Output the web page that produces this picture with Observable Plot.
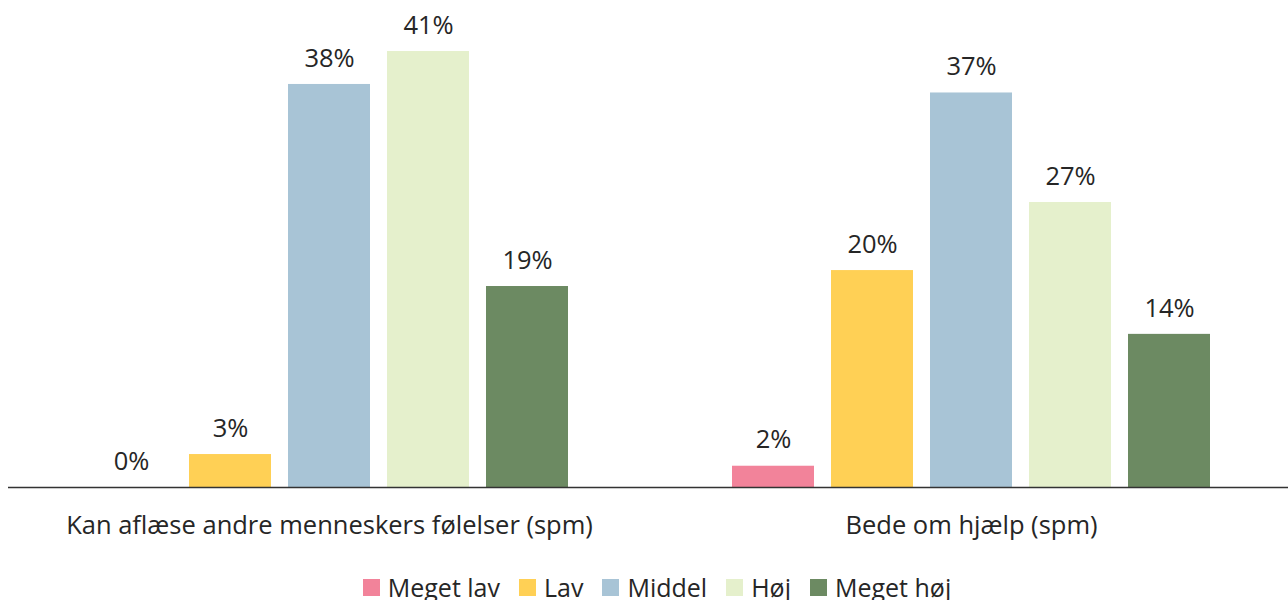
<!DOCTYPE html>
<html>
<head>
<meta charset="utf-8">
<script src="https://cdn.jsdelivr.net/npm/d3@7"></script>
<script src="https://cdn.jsdelivr.net/npm/@observablehq/plot@0.6"></script>
<style>
  body { margin: 0; background: #fff; font-family: "Open Sans", sans-serif; color: #262626; }
  #legend { display: flex; justify-content: center; align-items: center; gap: 19px; font-size: 25px; margin-top: 18px; line-height: 25px; padding-left: 26px; }
  #legend .item { display: flex; align-items: center; gap: 8px; }
  #legend .sw { width: 17px; height: 17px; display: inline-block; }
</style>
</head>
<body>
<div id="chart"></div>
<div id="legend"></div>
<script>
const questions = ["Kan aflæse andre menneskers følelser (spm)", "Bede om hjælp (spm)"];
const levels = ["Meget lav", "Lav", "Middel", "Høj", "Meget høj"];
const colors = ["#f2839a", "#ffd055", "#a8c4d6", "#e5f0cc", "#6c8a62"];
const values1 = [0, 3.1, 37.9, 41, 18.9];
const values2 = [2.0, 20.4, 37.1, 26.8, 14.4];

const data = [];
levels.forEach((l, i) => data.push({q: questions[0], level: l, value: values1[i]}));
levels.forEach((l, i) => data.push({q: questions[1], level: l, value: values2[i]}));

const chart = Plot.plot({
  width: 1288,
  height: 557,
  marginTop: 51,
  marginBottom: 70,
  marginLeft: 8,
  marginRight: -4,
  style: {fontFamily: "Open Sans, sans-serif", color: "#262626", background: "#fff"},
  fx: {domain: questions, padding: 0, axis: null},
  x: {domain: levels, paddingInner: 0.1717, paddingOuter: 0.813, axis: null},
  y: {domain: [0, 41], axis: null},
  color: {domain: levels, range: colors},
  marks: [
    Plot.barY(data, {fx: "q", x: "level", y: "value", fill: "level"}),
    Plot.text(data, {fx: "q", x: "level", y: "value", text: d => Math.round(d.value) + "%", dy: -26, fontSize: 25.5, fill: "#262626"}),
    Plot.text(questions, {fx: d => d, text: d => d, frameAnchor: "bottom", dy: 46, fontSize: 25.5, fill: "#262626"}),
    Plot.ruleY([0], {stroke: "#333", strokeWidth: 1.5})
  ]
});
document.getElementById("chart").appendChild(chart);

const legend = document.getElementById("legend");
levels.forEach((l, i) => {
  const item = document.createElement("div");
  item.className = "item";
  const sw = document.createElement("span");
  sw.className = "sw";
  sw.style.background = colors[i];
  const t = document.createElement("span");
  t.textContent = l;
  item.appendChild(sw);
  item.appendChild(t);
  legend.appendChild(item);
});
</script>
</body>
</html>
